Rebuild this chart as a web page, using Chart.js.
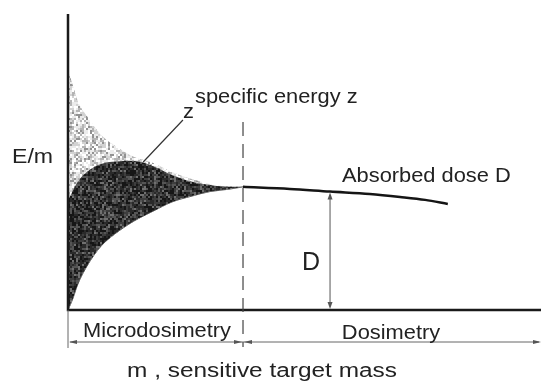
<!DOCTYPE html>
<html>
<head>
<meta charset="utf-8">
<script src="https://cdn.jsdelivr.net/npm/chart.js@4"></script>
<style>
  html, body { margin: 0; padding: 0; background: #fff; }
  #wrap { width: 541px; height: 385px; }
</style>
</head>
<body>
<div id="wrap"><canvas id="c" width="541" height="385"></canvas></div>
<script>
// Target mass (arbitrary units) shared by the spread envelopes
const massPoints = [0, 1, 2, 4, 7, 10, 14, 18, 22, 26, 30, 34, 37];
// Upper edge of the sparse scatter of z (small masses)
const zUpper = [81.1, 76.0, 70.9, 65.5, 59.1, 55.4, 51.7, 49.7, 46.6, 44.3, 42.6, 41.7, 41.6];
// Upper edge of the dense scatter of z
const zDenseUpper = [37.2, 40.2, 43.2, 46.6, 49.3, 50.2, 50.3, 48.6, 45.6, 43.4, 42.2, 41.6, 41.6];
// Lower edge of the scatter of z
const zLower = [0, 3.7, 8.4, 14.8, 21.6, 25.8, 30.1, 33.4, 36.5, 38.4, 40.0, 40.8, 41.6];
// Absorbed dose D for larger masses
const doseMass = [37, 46.9, 55.4, 63.8, 70.2, 75.5, 80.3];
const doseValues = [41.6, 40.9, 40.0, 39.2, 38.2, 37.2, 35.8];
// Boundary between microdosimetry and dosimetry, and where D is marked
const regionBoundary = 37;
const doseMarkerMass = 55.4;
const doseMarkerValue = 40.0;

function pts(xs, ys) { return xs.map((x, i) => ({ x: x, y: ys[i] })); }

// Deterministic grainy stipple texture for the scatter regions
function stipple(shades, weights, cell, seed) {
  const size = 96;
  const cv = document.createElement('canvas');
  cv.width = size; cv.height = size;
  const g = cv.getContext('2d');
  const total = weights.reduce((s, w) => s + w, 0);
  for (let y = 0; y < size; y += cell) {
    for (let x = 0; x < size; x += cell) {
      let h = (x * 374761393 + y * 668265263 + seed * 982451653) | 0;
      h = Math.imul(h ^ (h >>> 13), 1274126177);
      h = (h ^ (h >>> 16)) >>> 0;
      let r = (h % 10000) / 10000 * total;
      let k = 0;
      while (k < weights.length - 1 && r >= weights[k]) { r -= weights[k]; k++; }
      g.fillStyle = shades[k];
      g.fillRect(x, y, cell, cell);
    }
  }
  return g.createPattern(cv, 'repeat');
}

const denseFill = stipple(['#161616', '#2a2a2a', '#3e3e3e', '#555555', '#707070'], [30, 25, 20, 15, 10], 2, 7);
const sparseFill = stipple(['#ffffff', '#ebebeb', '#d2d2d2', '#b4b4b4', '#929292'], [25, 25, 20, 18, 12], 2, 3);

const FONT = "'Liberation Sans', Arial, sans-serif";

function label(ctx, text, x, y, size, align, stretch) {
  ctx.save();
  ctx.font = size + 'px ' + FONT;
  ctx.textAlign = align;
  ctx.textBaseline = 'alphabetic';
  ctx.translate(x, y);
  ctx.scale(stretch, 1);
  ctx.fillText(text, 0, 0);
  ctx.restore();
}

const overlay = {
  id: 'overlay',
  afterDatasetsDraw(chart) {
    const ctx = chart.ctx;
    const a = chart.chartArea;
    const X = chart.scales.x, Y = chart.scales.y;
    ctx.save();

    // axes
    ctx.strokeStyle = '#1a1a1a';
    ctx.lineWidth = 2.5;
    ctx.beginPath();
    ctx.moveTo(a.left, a.top);
    ctx.lineTo(a.left, a.bottom);
    ctx.lineTo(a.right, a.bottom);
    ctx.stroke();

    // dashed boundary
    const bx = X.getPixelForValue(regionBoundary);
    ctx.strokeStyle = '#444';
    ctx.lineWidth = 1.2;
    ctx.setLineDash([14, 8]);
    ctx.beginPath();
    ctx.moveTo(bx, Y.getPixelForValue(63.5));
    ctx.lineTo(bx, a.bottom + 37);
    ctx.stroke();
    ctx.setLineDash([]);

    function head(x, y, dir, len, w) {
      ctx.beginPath();
      if (dir === 'up') { ctx.moveTo(x, y); ctx.lineTo(x - w, y + len); ctx.lineTo(x + w, y + len); }
      if (dir === 'down') { ctx.moveTo(x, y); ctx.lineTo(x - w, y - len); ctx.lineTo(x + w, y - len); }
      if (dir === 'left') { ctx.moveTo(x, y); ctx.lineTo(x + len, y - w); ctx.lineTo(x + len, y + w); }
      if (dir === 'right') { ctx.moveTo(x, y); ctx.lineTo(x - len, y - w); ctx.lineTo(x - len, y + w); }
      ctx.closePath();
      ctx.fill();
    }

    // D marker
    const dx = X.getPixelForValue(doseMarkerMass);
    const dTop = Y.getPixelForValue(doseMarkerValue) + 1;
    const dBot = Y.getPixelForValue(0) - 1;
    ctx.strokeStyle = '#555';
    ctx.fillStyle = '#555';
    ctx.lineWidth = 1;
    ctx.beginPath();
    ctx.moveTo(dx, dTop + 4);
    ctx.lineTo(dx, dBot - 4);
    ctx.stroke();
    head(dx, dTop, 'up', 7, 2.5);
    head(dx, dBot, 'down', 7, 2.5);

    // region dimension row
    const ry = a.bottom + 32;
    ctx.strokeStyle = '#666';
    ctx.fillStyle = '#555';
    ctx.lineWidth = 1;
    ctx.beginPath();
    ctx.moveTo(a.left, a.bottom);
    ctx.lineTo(a.left, a.bottom + 38);
    ctx.moveTo(a.left + 2, ry);
    ctx.lineTo(a.right - 2, ry);
    ctx.stroke();
    head(a.left + 1, ry, 'left', 8, 2);
    head(bx - 1, ry, 'right', 8, 2);
    head(bx + 1, ry, 'left', 8, 2);
    head(a.right, ry, 'right', 8, 2);

    // leader line to z
    ctx.strokeStyle = '#333';
    ctx.lineWidth = 1.2;
    ctx.beginPath();
    ctx.moveTo(X.getPixelForValue(15.9), Y.getPixelForValue(50));
    ctx.lineTo(X.getPixelForValue(24.3), Y.getPixelForValue(64.2));
    ctx.stroke();

    // text
    ctx.fillStyle = '#222';
    label(ctx, 'E/m', 12, 163, 21, 'left', 1.1);
    label(ctx, 'z', 183, 118, 19.5, 'left', 1.12);
    label(ctx, 'specific energy z', 195, 103, 19.5, 'left', 1.12);
    label(ctx, 'Absorbed dose D', 342, 182, 19.5, 'left', 1.12);
    label(ctx, 'D', 302, 270, 25, 'left', 1);
    label(ctx, 'Microdosimetry', 157, a.bottom + 27, 19.5, 'center', 1.12);
    label(ctx, 'Dosimetry', 391, a.bottom + 29, 19.5, 'center', 1.12);
    label(ctx, 'm , sensitive target mass', 262, 377, 20, 'center', 1.22);

    ctx.restore();
  }
};

new Chart(document.getElementById('c'), {
  type: 'scatter',
  data: {
    datasets: [
      {
        label: 'dense z',
        data: pts(massPoints, zDenseUpper),
        showLine: true,
        fill: 2,
        backgroundColor: denseFill,
        borderWidth: 0,
        pointRadius: 0,
        cubicInterpolationMode: 'monotone'
      },
      {
        label: 'sparse z',
        data: pts(massPoints, zUpper),
        showLine: true,
        fill: 2,
        backgroundColor: sparseFill,
        borderWidth: 0,
        pointRadius: 0,
        cubicInterpolationMode: 'monotone'
      },
      {
        label: 'lower z',
        data: pts(massPoints, zLower),
        showLine: true,
        fill: false,
        borderColor: '#222222',
        borderWidth: 0.8,
        pointRadius: 0,
        cubicInterpolationMode: 'monotone'
      },
      {
        label: 'Absorbed dose D',
        data: pts(doseMass, doseValues),
        showLine: true,
        fill: false,
        borderColor: '#151515',
        borderWidth: 2.5,
        pointRadius: 0,
        cubicInterpolationMode: 'monotone'
      }
    ]
  },
  options: {
    responsive: false,
    animation: false,
    events: [],
    layout: { padding: { left: 68, top: 14, right: 0, bottom: 75 } },
    plugins: { legend: { display: false }, tooltip: { enabled: false }, title: { display: false } },
    scales: {
      x: { type: 'linear', min: 0, max: 100, display: false },
      y: { type: 'linear', min: 0, max: 100, display: false }
    }
  },
  plugins: [overlay]
});
</script>
</body>
</html>
